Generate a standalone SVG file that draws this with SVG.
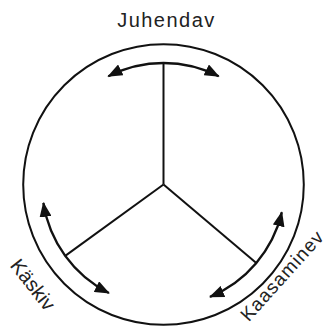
<svg xmlns="http://www.w3.org/2000/svg" width="330" height="329" viewBox="0 0 330 329">
<defs>
<marker id="ah" viewBox="0 0 15 12" refX="14" refY="6" markerUnits="userSpaceOnUse" markerWidth="15" markerHeight="12" orient="auto-start-reverse">
<path d="M0,0 L15,6 L0,12 z" fill="#111"/>
</marker>
<style>
.ln{fill:none;stroke:#111;stroke-width:2}
.ar{fill:none;stroke:#111;stroke-width:2.4;marker-start:url(#ah);marker-end:url(#ah)}
.lb{font-family:"Liberation Sans",Arial,sans-serif;font-size:20px;fill:#222;text-anchor:middle}
</style>
</defs>
<rect width="330" height="329" fill="#fff"/>
<g id="circle"><circle class="ln" cx="163.5" cy="184.5" r="140.3"/></g>
<g id="connectors">
<line class="ln" x1="163.5" y1="184.5" x2="163.5" y2="63"/>
<line class="ln" x1="163.5" y1="184.5" x2="65.2" y2="255.9"/>
<line class="ln" x1="163.5" y1="184.5" x2="256.3" y2="262.9"/>
<path class="ar" d="M108.3,76.2 A121.5,121.5 0 0 1 218.7,76.2"/>
<path class="ar" d="M108.9,293 A121.5,121.5 0 0 1 43.4,202.9"/>
<path class="ar" d="M281.8,212.3 A121.5,121.5 0 0 1 210,296.8"/>
</g>
<g id="juhendav"><text class="lb" x="166.5" y="26.7" letter-spacing="1.5">Juhendav</text></g>
<g id="kaskiv"><text class="lb" transform="translate(27.5,289) rotate(52)">Käskiv</text></g>
<g id="kaasaminev"><text class="lb" style="font-size:19px" letter-spacing="1" transform="translate(287,280) rotate(-48)">Kaasaminev</text></g>
</svg>
